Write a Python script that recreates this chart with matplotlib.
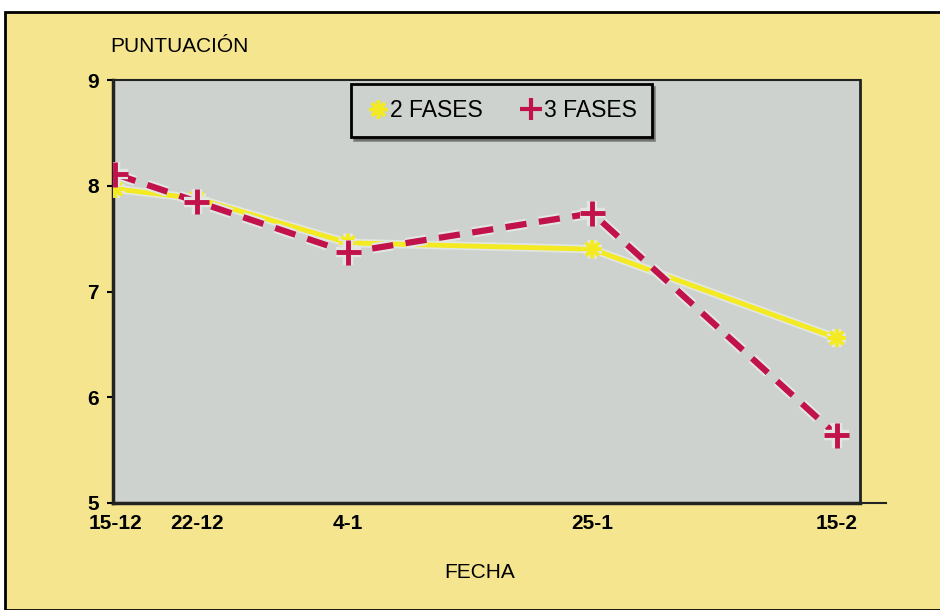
import matplotlib
matplotlib.use("Agg")
import matplotlib.pyplot as plt
from matplotlib.patches import Rectangle
from matplotlib.lines import Line2D
import matplotlib.patheffects as pe

dates = ["15-12", "22-12", "4-1", "25-1", "15-2"]
days = [0, 7, 20, 41, 62]
fases2 = [7.97, 7.88, 7.46, 7.40, 6.56]
fases3 = [8.11, 7.85, 7.37, 7.74, 5.64]
yticks = [5, 6, 7, 8, 9]

W, H = 940, 610
fig = plt.figure(figsize=(W / 100, H / 100), dpi=100)
fig.patch.set_facecolor("white")

bg = "#F4E58E"
fig.patches.append(Rectangle((5 / W, 0), 1.0, 1 - 12 / H, transform=fig.transFigure,
                             facecolor=bg, edgecolor="black", linewidth=2.0, zorder=-10))

ax = fig.add_axes([113 / W, 1 - 503 / H, (860 - 113) / W, (503 - 80) / H])
ax.set_facecolor("#CDD2CE")
ax.set_xlim(-0.2, 64.0)
ax.set_ylim(5, 9)

# bottom axis line extends past the plot area
fig.lines.append(Line2D([855 / W, 886 / W], [1 - 503 / H, 1 - 503 / H],
                        transform=fig.transFigure, color="#222222", lw=1.5))

ax.plot(days, fases2, color="#F3EA22", lw=3.5, marker=(8, 2, 0), ms=13, mew=2.5,
        zorder=3, path_effects=[pe.Stroke(linewidth=6, foreground="#E2E6E2"), pe.Normal()])
ax.plot(days, fases3, color="#C2124C", lw=4.5, ls=(0, (3.4, 2.0)), marker="+", ms=18, mew=3.5,
        zorder=4, path_effects=[pe.Stroke(linewidth=7.5, foreground="#E2E6E2"), pe.Normal()])

for s in ["left", "bottom", "top", "right"]:
    ax.spines[s].set_color("#222222")
ax.spines["left"].set_linewidth(2.5)
ax.spines["bottom"].set_linewidth(2.5)
ax.spines["top"].set_linewidth(1.5)
ax.spines["right"].set_linewidth(2.0)

tick_font = ["Liberation Sans", "DejaVu Sans"]
ax.set_yticks(yticks)
ax.set_yticklabels([str(v) for v in yticks], fontsize=15, fontweight="bold", family=tick_font)
ax.tick_params(axis="y", length=4, width=1.5, pad=6, direction="out")
ax.set_xticks(days)
ax.set_xticklabels(dates, fontsize=15, fontweight="bold", family=tick_font)
ax.tick_params(axis="x", length=0, pad=8)

label_font = ["Liberation Sans Narrow", "Liberation Sans", "DejaVu Sans"]
fig.text(110 / W, 1 - 47 / H, "PUNTUACIÓN", fontsize=15, va="center", ha="left",
         family=label_font)
fig.text(480 / W, 1 - 572 / H, "FECHA", fontsize=15, va="center", ha="center",
         family=label_font)

handles = [
    Line2D([], [], color="#F3EA22", ls="none", marker=(8, 2, 0), ms=13, mew=2.5),
    Line2D([], [], color="#C2124C", ls="none", marker="+", ms=16, mew=3),
]
leg = ax.legend(handles, ["2 FASES", "3 FASES"], loc="upper center",
                bbox_to_anchor=(0.52, 0.99), ncol=2, frameon=True, fancybox=False,
                shadow=True, handletextpad=0.05, columnspacing=1.6, borderpad=0.65,
                borderaxespad=0.0, handlelength=1.0,
                prop={"family": label_font, "size": 16.5})
leg.get_frame().set_facecolor("#CDD2CE")
leg.get_frame().set_edgecolor("black")
leg.get_frame().set_linewidth(2)
leg.get_frame().set_alpha(1)

fig.savefig("out.png", dpi=100, facecolor=fig.get_facecolor())
